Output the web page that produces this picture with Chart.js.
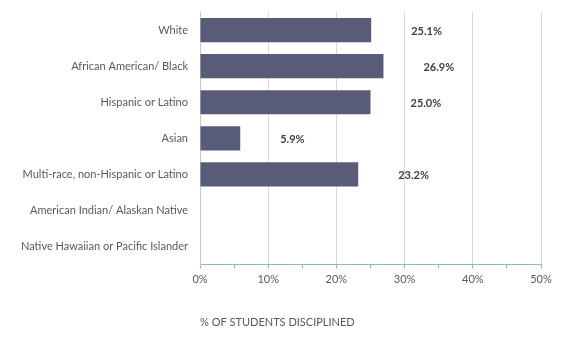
<!DOCTYPE html>
<html>
<head>
<meta charset="utf-8">
<script src="https://cdn.jsdelivr.net/npm/chart.js@4"></script>
<style>
  html, body { margin: 0; padding: 0; background: #fff; }
  #wrap { width: 567px; height: 352px; }
</style>
</head>
<body>
<div id="wrap"><canvas id="chart" width="567" height="352"></canvas></div>
<script>
var groups = [
  'White',
  'African American/ Black',
  'Hispanic or Latino',
  'Asian',
  'Multi-race, non-Hispanic or Latino',
  'American Indian/ Alaskan Native',
  'Native Hawaiian or Pacific Islander'
];
var pctDisciplined = [25.1, 26.9, 25.0, 5.9, 23.2, 0, 0];
var xTicks = [0, 10, 20, 30, 40, 50];

var fontFamily = 'Lato, "Open Sans", sans-serif';

// value labels sit a bit to the right of each bar end
var barLabels = {
  id: 'barLabels',
  afterDatasetsDraw: function(chart){
    var ctx = chart.ctx;
    var meta = chart.getDatasetMeta(0);
    ctx.save();
    ctx.font = 'bold 11px ' + fontFamily;
    ctx.fillStyle = '#404040';
    ctx.textAlign = 'left';
    ctx.textBaseline = 'middle';
    meta.data.forEach(function(bar, i){
      var v = pctDisciplined[i];
      if (!v) return;
      ctx.fillText(v.toFixed(1) + '%', bar.x + 40, bar.y + 1);
    });
    ctx.restore();
  }
};

new Chart(document.getElementById('chart'), {
  type: 'bar',
  data: {
    labels: groups,
    datasets: [{
      data: pctDisciplined,
      backgroundColor: '#595c78',
      barPercentage: 0.67,
      categoryPercentage: 1.0
    }]
  },
  plugins: [barLabels],
  options: {
    indexAxis: 'y',
    responsive: false,
    animation: false,
    layout: { padding: { top: 12, right: 26, bottom: 23, left: 0 } },
    plugins: { legend: { display: false }, tooltip: { enabled: false } },
    scales: {
      x: {
        min: 0,
        max: 50,
        ticks: {
          stepSize: 5,
          autoSkip: false,
          maxRotation: 0,
          padding: 4,
          color: '#595959',
          font: { family: fontFamily, size: 11 },
          callback: function(v){ return xTicks.indexOf(v) >= 0 ? v + '%' : ''; }
        },
        grid: {
          color: function(c){ return c.tick && c.tick.value % 10 === 0 ? '#d9d9d9' : 'rgba(0,0,0,0)'; },
          tickColor: '#8fb8cf',
          tickLength: 4,
          drawTicks: true
        },
        border: { color: '#8fb8cf', width: 1 },
        title: {
          display: true,
          text: '% OF STUDENTS DISCIPLINED',
          align: 'start',
          color: '#595959',
          font: { family: fontFamily, size: 11 },
          padding: { top: 26, bottom: 0 }
        }
      },
      y: {
        afterFit: function(scale){
          scale.width = 200;
          scale.paddingTop = 0;
          scale.paddingBottom = 0;
        },
        ticks: {
          padding: 12,
          color: '#595959',
          font: { family: fontFamily, size: 11 }
        },
        grid: { display: false, drawTicks: false },
        border: { color: '#c8c8c8', width: 1 }
      }
    }
  }
});
</script>
</body>
</html>
